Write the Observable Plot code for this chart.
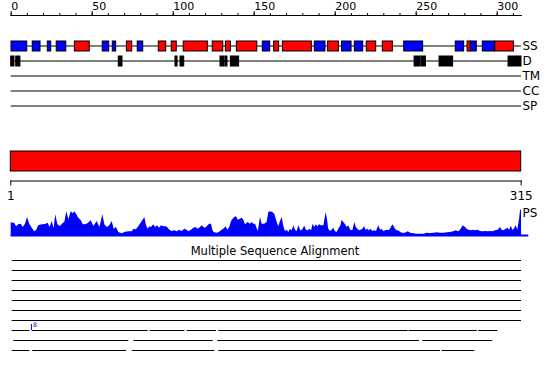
<!DOCTYPE html>
<html><head><meta charset="utf-8">
<script src="https://cdn.jsdelivr.net/npm/d3@7"></script>
<script src="https://cdn.jsdelivr.net/npm/@observablehq/plot@0.6"></script>
<style>
html,body{margin:0;padding:0;background:#fff;}
#chart{position:relative;width:550px;height:380px;overflow:hidden;font-family:"DejaVu Sans",sans-serif;color:#000;}
#chart svg{position:absolute;left:0;top:0;background:transparent;}
#title{position:absolute;left:0;top:244px;width:550px;text-align:center;font-size:11.5px;line-height:14px;font-family:"DejaVu Sans",sans-serif;}
</style></head><body><div id="chart"></div>
<script>
// ---------- data ----------
const seqLength = 315;
const tracks = ["SS", "D", "TM", "CC", "SP"];
const topTicks = [0, 50, 100, 150, 200, 250, 300];
const minorTicks = [0,10,20,30,40,50,60,70,80,90,100,110,120,130,140,150,160,170,180,190,200,210,220,230,240,250,260,270,280,290,300,310];
const rulerTicks = [1, 315];

// secondary structure elements (H = helix/red, E = strand/blue)
const ssStart = [0.2,13.3,22.6,28.1,39.3,56.5,62.7,71.4,78.1,91.1,99.1,106.5,124.4,132.5,139.3,155.3,162.3,167.7,187.4,195.6,204.2,212.1,219.5,229.4,242.6,274.4,281.7,283.7,291.1,298.8];
const ssEnd   = [9.9,18.1,24.7,34.0,48.5,60.5,64.8,74.7,81.5,95.7,102.2,121.4,130.9,135.6,151.9,159.9,165.4,185.6,194.0,202.3,210.1,217.3,225.3,235.6,254.3,279.6,283.7,287.4,298.8,310.3];
const ssType  = ["E","E","E","E","H","E","E","H","E","H","H","H","H","H","H","E","H","H","E","H","E","E","H","H","E","E","H","E","E","H"];

// disorder segments
const dStart = [0,3.1,66.4,101.4,104.5,129.2,132.3,135.6,249.0,253.3,264.4,307.0];
const dEnd   = [2.0,5.7,68.7,102.7,106.8,131.7,133.5,140.7,252.7,256.0,272.8,315.0];

// domain bar
const domStart = [1];
const domEnd = [315];

// PS profile
const psMax = 80;
const psTailEnd = 319.5;
const psPos = [0,2.2,3.3,4.7,6.2,7.4,8.8,10.1,11.3,13,14.4,15.6,17,19.1,21.2,22.8,24,25.3,26.5,27.5,28.8,30.4,31.9,33.1,34.3,35.6,37,38.3,39.3,40.5,41.7,43.2,44.4,45.9,47.3,49.4,51,53.1,54.7,56.6,57.8,59.3,60.9,62.3,63.6,65,66.4,68.5,70.6,72.6,74.7,75.9,77.3,78.8,79.8,81.2,82.5,83.5,84.6,85.6,86.6,88,89.1,90.5,91.5,92.8,94.2,95.7,96.9,97.9,99.4,101,102.5,103.9,105.5,107.2,108.6,109.6,111.3,112.7,114.2,115.4,116.9,117.9,118.9,119.9,121.6,122.4,123.6,124.7,125.7,127.2,128.2,129.8,131.2,132.7,133.7,134.9,136,137,138,139.1,140.1,141.5,142.6,143.6,144.6,146.3,147.7,148.8,149.8,150.8,152.5,153.9,154.9,156.5,158,159,160.1,161.5,162.7,164.2,165.2,166.2,167.3,168.3,169.3,170.4,171.4,172.4,173.5,174.4,175.5,176.5,177.5,178.6,179.6,181.2,182.3,183.3,184.3,185.4,186.4,187.4,188.3,189.3,190.3,191.5,193,194.4,195.2,196,197.1,198.1,199.1,200.2,201.2,202.2,203.5,204.3,205.3,206.4,207.4,208.4,209.6,210.9,212.1,213,214,215,216,217,218.1,219.1,220.1,221.2,222.2,223.2,224.4,225.5,226.9,228,229,230,231.1,232.1,233.1,234.1,235.6,236.6,237.7,238.6,239.7,241.3,243.4,245.1,246.5,248.5,250.6,252.7,254.7,256.8,258.8,260.9,263,265,267.1,269.1,271.2,273.2,274.7,276.3,277.8,279,280.4,281.5,282.5,284.1,285.5,286.6,288.3,289.7,291.1,292.8,294.4,295.9,297.3,298.9,300.6,302,303,304.1,305.6,306.5,307.6,308.8,309.6,310.6,311.7,312.7,313.8,314.4,315];
const psVal = [41,39,29,35,37,27,37,57,38,25,15,17,32,35,36,40,27,45,24,65,35,30,38,42,74,50,74,68,74,65,55,48,36,35,38,47,30,45,27,65,35,27,32,45,22,27,12,8,13,14,14,22,20,30,37,47,57,32,22,29,27,35,27,32,25,32,29,29,25,19,15,17,14,19,15,22,19,14,19,25,27,22,27,32,27,25,32,37,37,15,11,10,11,17,22,29,19,27,45,52,57,59,49,52,55,49,35,42,37,42,37,37,15,57,37,37,42,72,74,72,67,42,29,45,57,29,15,19,12,22,17,32,19,15,32,19,17,31,19,17,22,17,37,27,35,29,35,32,32,72,52,22,15,19,25,14,12,22,32,49,42,35,27,32,19,17,42,27,22,17,19,22,29,19,22,17,22,15,17,15,32,19,22,15,17,19,17,22,35,27,19,17,15,10,10,14,10,8,7,7,7,10,9,10,11,10,10,11,12,14,17,14,22,32,27,22,19,17,19,17,19,15,14,15,14,15,14,17,19,27,19,17,22,25,19,31,19,22,32,19,52,77,80];

// multiple sequence alignment rows
const alnTitle = "Multiple Sequence Alignment";
const alnRows = [1,2,3,4,5,6,7,8,9,10];
const alnRow   = [1,2,3,4,5,6,7, 8,8,8,8,8,8,8, 9,9,9,9, 10,10,10,10,10];
const alnStart = [0.6,0.6,0.6,0.6,0.6,0.6,0.6, 0.6,13,85.6,108.6,128.1,245.6,288.6, 1.6,75.7,127.5,254, 0.6,13.3,74.7,128.1,266];
const alnEnd   = [315,315,315,315,315,315,315, 11.5,84.6,107.2,126.7,245.0,287.7,300.4, 72.6,124.7,252,297.3, 11.5,71.2,125.7,265,286.2];
const markerPos = [12.5];
const markerRow = [8];
const markerLabel = ["8"];

// ---------- build ----------
const W = 550, H = 380;
const base = {width: W, height: H, style: {background: "transparent", fontFamily: "DejaVu Sans, sans-serif", color: "black", overflow: "visible"}};

const ssData = ssStart.map((s, i) => ({start: s, end: ssEnd[i], type: ssType[i], track: "SS"}));
const dData = dStart.map((s, i) => ({start: s, end: dEnd[i], track: "D"}));
const domData = domStart.map((s, i) => ({start: s, end: domEnd[i]}));
const psData = psPos.map((p, i) => ({pos: p, val: psVal[i]}));
const alnData = alnRow.map((r, i) => ({row: r, start: alnStart[i], end: alnEnd[i]}));
const markerData = markerPos.map((p, i) => ({pos: p, row: markerRow[i], label: markerLabel[i]}));

const chart = document.getElementById("chart");

const plotTracks = Plot.plot({...base,
  marginLeft: 10.7, marginRight: 29, marginTop: 15, marginBottom: 0,
  x: {domain: [0, seqLength], label: null},
  y: {type: "band", domain: tracks, range: [37.5, 112.5], padding: 0, axis: null},
  color: {domain: ["H", "E"], range: ["#ff0000", "#0000ff"]},
  marks: [
    Plot.frame({anchor: "top"}),
    Plot.axisX({anchor: "top", ticks: minorTicks, tickSize: 3, tickFormat: () => ""}),
    Plot.axisX({anchor: "top", ticks: topTicks, tickSize: 5, tickPadding: 1, textAnchor: "start", fontSize: 11}),
    Plot.ruleY(tracks, {y: d => d, x1: () => 0, x2: () => seqLength, stroke: "black"}),
    Plot.barX(ssData, {x1: "start", x2: "end", y: "track", fill: "type", stroke: "black", insetTop: 3, insetBottom: 2}),
    Plot.barX(dData, {x1: "start", x2: "end", y: "track", fill: "black", stroke: "black", insetTop: 3, insetBottom: 2}),
    Plot.text(tracks, {x: () => seqLength, y: d => d, text: d => d, textAnchor: "start", dx: 1, fontSize: 12})
  ]
});

const plotBar = Plot.plot({...base,
  marginLeft: 10.3, marginRight: 29.3, marginTop: 0, marginBottom: H - 180.5,
  x: {domain: [1, seqLength], label: null},
  y: {type: "band", domain: ["domain"], range: [150.5, 170.5], padding: 0, axis: null},
  marks: [
    Plot.barX(domData, {x1: "start", x2: "end", y: () => "domain", fill: "#ff0000", stroke: "black"}),
    Plot.frame({anchor: "bottom"}),
    Plot.axisX({anchor: "bottom", ticks: rulerTicks, tickSize: 5, tickPadding: 5, fontSize: 12})
  ]
});

const plotPS = Plot.plot({...base,
  marginLeft: 10.7, marginRight: 29, marginTop: 0, marginBottom: 0,
  x: {domain: [0, seqLength], axis: null},
  y: {domain: [0, psMax], range: [236, 209.3], axis: null},
  marks: [
    Plot.ruleY([0], {x1: () => 0, x2: () => psTailEnd, stroke: "#0000ff", strokeWidth: 2, dy: -1}),
    Plot.areaY(psData, {x: "pos", y: "val", fill: "#0000ff"}),
    Plot.text(["PS"], {x: () => seqLength, y: () => psMax, text: d => d, textAnchor: "start", dx: 1, dy: 3, fontSize: 12})
  ]
});

const plotAln = Plot.plot({...base,
  marginLeft: 10.7, marginRight: 29, marginTop: 0, marginBottom: 0,
  x: {domain: [0, seqLength], axis: null},
  y: {type: "band", domain: alnRows, range: [255, 355], padding: 0, axis: null},
  marks: [
    Plot.ruleY(alnData, {y: "row", x1: "start", x2: "end", stroke: "black"}),
    Plot.tickX(markerData, {x: "pos", y: "row", stroke: "#0000ff", strokeWidth: 1, insetTop: -1, insetBottom: 5}),
    Plot.text(markerData, {x: "pos", y: "row", text: "label", fill: "#0000ff", fontSize: 6, dx: 1.5, dy: -5.5, textAnchor: "start"})
  ]
});

[plotTracks, plotBar, plotPS, plotAln].forEach(p => chart.appendChild(p));
const title = document.createElement("div");
title.id = "title";
title.textContent = alnTitle;
chart.appendChild(title);
</script>
</body></html>
